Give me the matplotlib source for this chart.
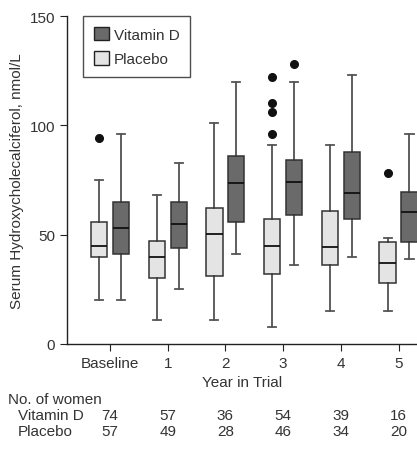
import matplotlib.pyplot as plt
import matplotlib.transforms as mtransforms
from matplotlib.patches import Patch

plt.rcParams['font.family'] = ['Liberation Sans', 'DejaVu Sans']

groups = ['Baseline', '1', '2', '3', '4', '5']
n_vitd = [74, 57, 36, 54, 39, 16]
n_plac = [57, 49, 28, 46, 34, 20]

# (low whisker, q1, median, q3, high whisker)
plac_stats = [(20, 40, 45, 56, 75), (11, 30, 40, 47, 68), (11, 31, 50.5, 62, 101),
              (8, 32, 45, 57, 91), (15, 36, 44.5, 61, 91), (15, 28, 37, 46.5, 48.5)]
vitd_stats = [(20, 41, 53, 65, 96), (25, 44, 55, 65, 83), (41, 56, 73.5, 86, 120),
              (36, 59, 74, 84, 120), (40, 57, 69, 88, 123), (39, 46.5, 60.5, 69.5, 96)]
plac_fliers = [[94], [], [], [96, 106, 110, 122], [], [78]]
vitd_fliers = [[], [], [], [128], [], []]

plac_color = '#e4e4e4'
vitd_color = '#6a6a6a'
txt = '#333333'


def to_bxp(stats, fliers):
    out = []
    for (lo, q1, med, q3, hi), fl in zip(stats, fliers):
        out.append(dict(whislo=lo, q1=q1, med=med, q3=q3, whishi=hi, fliers=fl))
    return out


fig = plt.figure(figsize=(4.17, 4.6), dpi=100)
ax = fig.add_axes([0.1607, 0.25, 0.8393, 0.713])

pos = list(range(len(groups)))
off = 0.19
w = 0.28
common = dict(widths=w, patch_artist=True, showfliers=True,
              medianprops=dict(color='#111111', lw=1.3),
              whiskerprops=dict(color='#333333', lw=1.1),
              capprops=dict(color='#555555', lw=1.3),
              flierprops=dict(marker='o', markerfacecolor='#111111', markeredgecolor='#111111', markersize=5.5),
              boxprops=dict(edgecolor='#333333', lw=1.1))
bp1 = ax.bxp(to_bxp(plac_stats, plac_fliers), positions=[p - off for p in pos], **common)
bp2 = ax.bxp(to_bxp(vitd_stats, vitd_fliers), positions=[p + off for p in pos], **common)
for b in bp1['boxes']:
    b.set_facecolor(plac_color)
for b in bp2['boxes']:
    b.set_facecolor(vitd_color)

ax.set_xlim(-0.745, 5.32)
ax.set_ylim(0, 150)
ax.set_yticks([0, 50, 100, 150])
ax.set_xticks(pos)
ax.set_xticklabels(groups)
ax.spines['top'].set_visible(False)
ax.spines['right'].set_visible(False)
for s in ['left', 'bottom']:
    ax.spines[s].set_color('#222222')
    ax.spines[s].set_linewidth(1.0)
ax.tick_params(axis='both', labelsize=11, colors='#222222', labelcolor=txt, length=5)
ax.set_ylabel('Serum Hydroxycholecalciferol, nmol/L', fontsize=11, color=txt, labelpad=4)
ax.set_xlabel('Year in Trial', fontsize=11, color=txt, labelpad=4)

leg = ax.legend(handles=[Patch(facecolor=vitd_color, edgecolor='#222222', label='Vitamin D'),
                         Patch(facecolor=plac_color, edgecolor='#222222', label='Placebo')],
                loc='upper left', bbox_to_anchor=(0.046, 1.0), fontsize=11, frameon=True,
                fancybox=False, edgecolor='#222222', handlelength=1.0, handleheight=1.0,
                handletextpad=0.3, borderpad=0.7, labelspacing=0.6, borderaxespad=0)
leg.get_frame().set_linewidth(1.0)
for t in leg.get_texts():
    t.set_color(txt)

# table of counts below the axis
tr = mtransforms.blended_transform_factory(ax.transData, fig.transFigure)
fig.text(8 / 417, 1 - 400 / 460, 'No. of women', fontsize=11, color=txt, va='center')
fig.text(18 / 417, 1 - 416 / 460, 'Vitamin D', fontsize=11, color=txt, va='center')
fig.text(18 / 417, 1 - 432 / 460, 'Placebo', fontsize=11, color=txt, va='center')
for p, a, b in zip(pos, n_vitd, n_plac):
    ax.text(p, 1 - 416 / 460, str(a), transform=tr, ha='center', va='center', fontsize=11, color=txt, clip_on=False)
    ax.text(p, 1 - 432 / 460, str(b), transform=tr, ha='center', va='center', fontsize=11, color=txt, clip_on=False)

fig.savefig('out.png', dpi=100)
